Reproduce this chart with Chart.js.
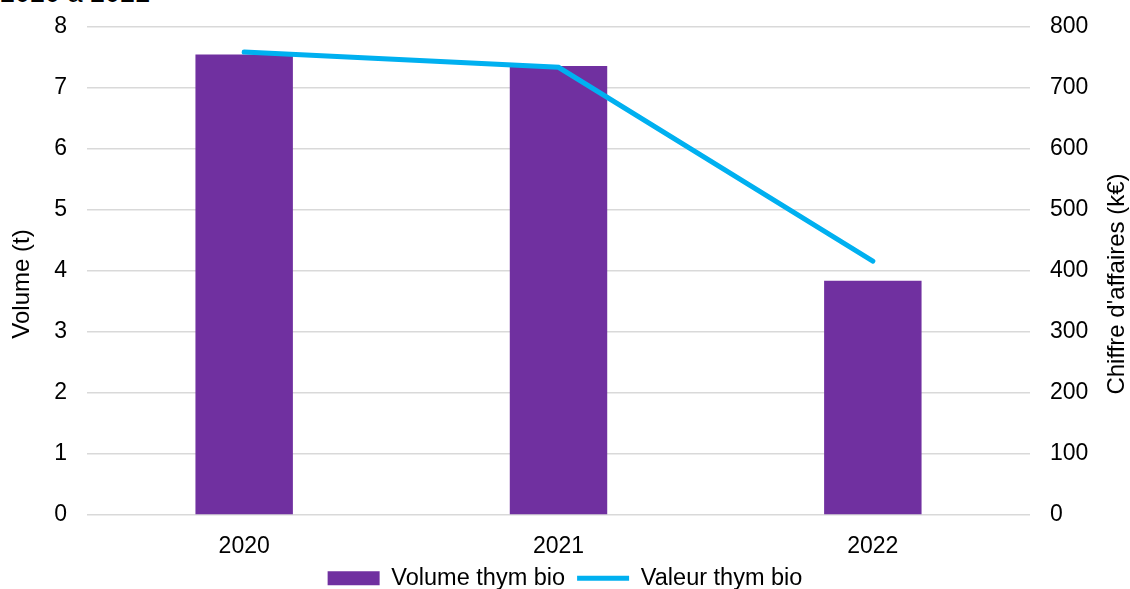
<!DOCTYPE html>
<html>
<head>
<meta charset="utf-8">
<script src="https://cdn.jsdelivr.net/npm/chart.js@4"></script>
<style>
  body { margin: 0; background: #fff; overflow: hidden; }
  #wrap { position: relative; width: 1130px; height: 589px; overflow: hidden; }
  #titre { position: absolute; left: 0; top: -20px; font: 27px "Liberation Sans", Arial, sans-serif; line-height: 27px; color: #000; white-space: nowrap; }
  canvas { position: absolute; left: 0; top: 0; }
</style>
</head>
<body>
<div id="wrap">
  <div id="titre">2020 à 2022</div>
  <canvas id="graphique" width="1130" height="589"></canvas>
</div>
<script>
// données
const annees = ['2020', '2021', '2022'];
const volumeThym = [7.55, 7.36, 3.84];      // tonnes
const valeurThym = [759, 734, 416];         // k€
const ticksVolume = [0, 1, 2, 3, 4, 5, 6, 7, 8];
const ticksValeur = [0, 100, 200, 300, 400, 500, 600, 700, 800];
const titresAxes = ['Volume (t)', "Chiffre d'affaires (k€)"];

const famille = 'Liberation Sans, Arial, sans-serif';
const police = { family: famille, size: 23 };

// titres des axes verticaux, tous deux écrits de bas en haut
const titresVerticaux = {
    id: 'titresVerticaux',
    afterDraw(chart) {
        const c = chart.ctx;
        c.save();
        c.font = '24px ' + famille;
        c.fillStyle = '#000';
        c.textAlign = 'center';
        c.textBaseline = 'middle';
        [[22, titresAxes[0]], [1117, titresAxes[1]]].forEach(([x, txt]) => {
            c.save();
            c.translate(x, 284);
            c.rotate(-Math.PI / 2);
            c.fillText(txt, 0, 0);
            c.restore();
        });
        c.restore();
    }
};

const ctx = document.getElementById('graphique').getContext('2d');
new Chart(ctx, {
    type: 'bar',
    data: {
        labels: annees,
        datasets: [{
            label: 'Volume thym bio',
            data: volumeThym,
            backgroundColor: '#7030A0',
            yAxisID: 'y',
            barPercentage: 0.31,
            categoryPercentage: 1,
            order: 2
        }, {
            type: 'line',
            label: 'Valeur thym bio',
            data: valeurThym,
            borderColor: '#00B0F0',
            backgroundColor: '#00B0F0',
            borderWidth: 5,
            borderCapStyle: 'round',
            pointRadius: 0,
            tension: 0,
            yAxisID: 'y1',
            order: 1
        }]
    },
    options: {
        responsive: false,
        animation: false,
        layout: { padding: { top: 27, bottom: -11 } },
        plugins: {
            tooltip: { enabled: false },
            legend: {
                position: 'bottom',
                labels: {
                    color: '#000',
                    font: { family: famille, size: 23.5 },
                    usePointStyle: true,
                    pointStyleWidth: 52,
                    boxHeight: 14,
                    padding: 12,
                    generateLabels: function(chart) {
                        const items = Chart.defaults.plugins.legend.labels.generateLabels(chart);
                        items.sort((a, b) => a.datasetIndex - b.datasetIndex);
                        items.forEach(it => {
                            if (it.datasetIndex === 0) {
                                it.pointStyle = 'rect'; it.lineWidth = 0;
                                it.fillStyle = '#7030A0'; it.strokeStyle = '#7030A0';
                            } else {
                                it.pointStyle = 'line'; it.lineWidth = 5;
                                it.strokeStyle = '#00B0F0'; it.fillStyle = '#00B0F0';
                            }
                        });
                        return items;
                    }
                }
            }
        },
        scales: {
            x: {
                grid: { display: false },
                border: { display: false },
                afterFit: axe => { axe.height -= 16; },
                ticks: { color: '#000', font: police, padding: 10 }
            },
            y: {
                position: 'left',
                min: 0, max: 8,
                afterBuildTicks: axe => { axe.ticks = ticksVolume.map(v => ({ value: v })); },
                afterFit: axe => { axe.width = 87; axe.paddingTop = 0; },
                grid: { color: '#d9d9d9', lineWidth: 1.5, drawTicks: false },
                border: { display: false },
                ticks: { color: '#000', font: police, padding: 20 }
            },
            y1: {
                position: 'right',
                min: 0, max: 800,
                afterBuildTicks: axe => { axe.ticks = ticksValeur.map(v => ({ value: v })); },
                afterFit: axe => { axe.width = 100; axe.paddingTop = 0; },
                grid: { display: false, drawTicks: false },
                border: { display: false },
                ticks: { color: '#000', font: police, padding: 20 }
            }
        }
    },
    plugins: [titresVerticaux]
});
</script>
</body>
</html>
